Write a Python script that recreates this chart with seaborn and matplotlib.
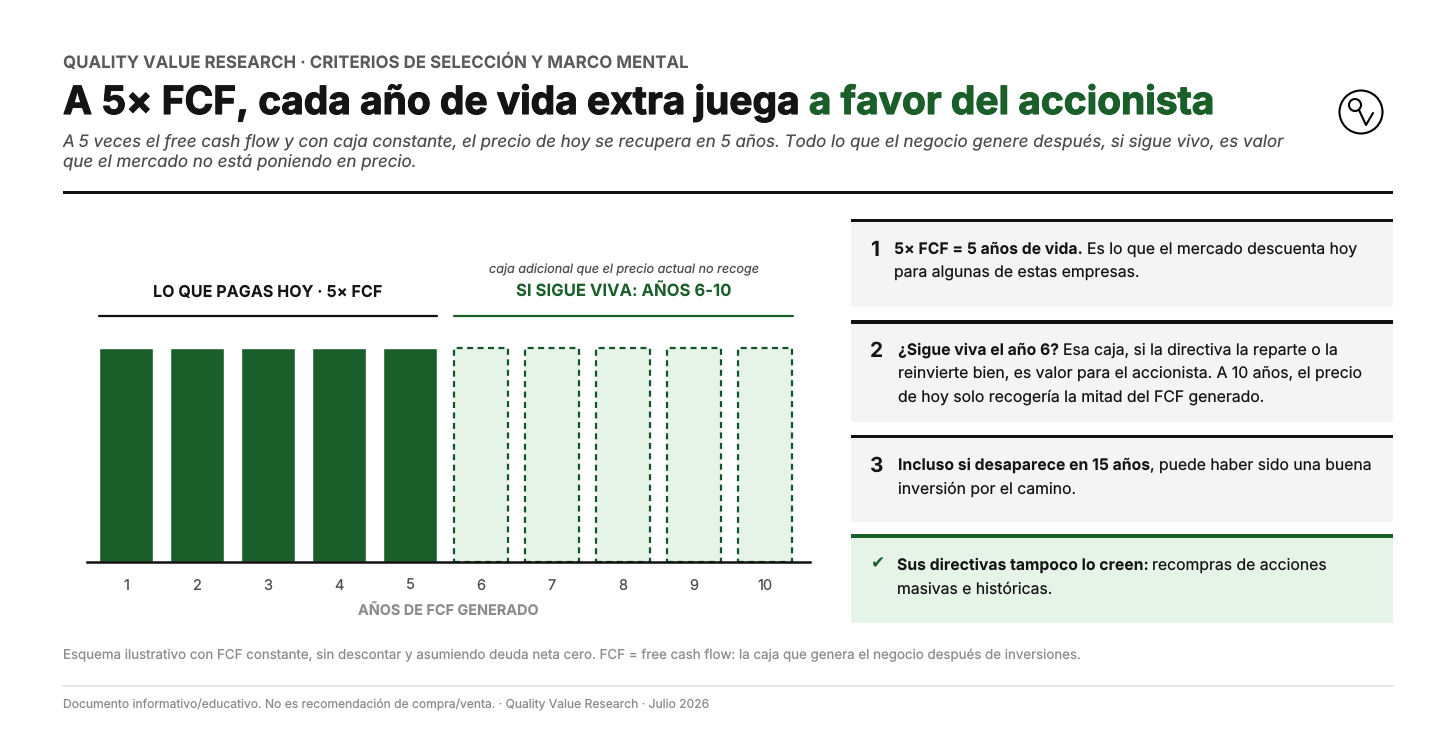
import matplotlib
matplotlib.use('Agg')
import matplotlib.pyplot as plt
import matplotlib.patheffects as pe
from matplotlib.patches import Rectangle, Circle
import pandas as pd
import seaborn as sns

# data
years = ['1', '2', '3', '4', '5', '6', '7', '8', '9', '10']
fcf = [1, 1, 1, 1, 1, 1, 1, 1, 1, 1]
tramo = ['pagado'] * 5 + ['extra'] * 5

kicker = 'QUALITY VALUE RESEARCH · CRITERIOS DE SELECCIÓN Y MARCO MENTAL'
title_a = 'A 5× FCF, cada año de vida extra juega '
title_b = 'a favor del accionista'
subtitle = ['A 5 veces el free cash flow y con caja constante, el precio de hoy se recupera en 5 años. Todo lo que el negocio genere después, si sigue vivo, es valor',
            'que el mercado no está poniendo en precio.']
xlabel = 'AÑOS DE FCF GENERADO'
head_left = 'LO QUE PAGAS HOY · 5× FCF'
head_right = 'SI SIGUE VIVA: AÑOS 6-10'
head_note = 'caja adicional que el precio actual no recoge'
note = 'Esquema ilustrativo con FCF constante, sin descontar y asumiendo deuda neta cero. FCF = free cash flow: la caja que genera el negocio después de inversiones.'
legal = 'Documento informativo/educativo. No es recomendación de compra/venta. · Quality Value Research · Julio 2026'

GREEN = '#1a5e2a'
DASH = '#14522a'
PALE = '#e6f4e8'
INK = '#141414'

sns.set_theme(style='white')
plt.rcParams['font.family'] = ['Inter', 'DejaVu Sans']
plt.rcParams['text.hinting'] = 'none'
plt.rcParams['text.hinting_factor'] = 1

W, H = 1456, 751
fig = plt.figure(figsize=(W / 100, H / 100), dpi=100, facecolor='white')

# capa de maquetacion en pixeles
bg = fig.add_axes([0, 0, 1, 1])
bg.set_xlim(0, W)
bg.set_ylim(H, 0)
bg.axis('off')


def put(x, y, s, size, color=INK, weight='normal', style='normal', ha='left'):
    return bg.text(x, y, s, fontsize=size, color=color, fontweight=weight, fontstyle=style,
                   ha=ha, va='baseline')


def runs(x, y, parts, size):
    # texto seguido con tramos en negrita
    r = fig.canvas.get_renderer()
    for s, w in parts:
        t = put(x, y, s, size, weight=w)
        x = t.get_window_extent(r).x1


put(63, 68, kicker, 12.18, '#5a5a5a', 'bold')
t = put(63, 114, title_a, 28.0, INK, 'bold')
t.set_path_effects([pe.withStroke(linewidth=0.8, foreground=INK)])
x_end = t.get_window_extent(fig.canvas.get_renderer()).x1
t = put(x_end, 114, title_b, 28.0, GREEN, 'bold')
t.set_path_effects([pe.withStroke(linewidth=0.8, foreground=GREEN)])
put(63, 146, subtitle[0], 12.19, '#4d4d4d', style='italic')
put(63, 167, subtitle[1], 12.19, '#4d4d4d', style='italic')
bg.add_patch(Rectangle((63, 190.5), 1330, 3, color='#111111', lw=0))

# logo
bg.add_patch(Circle((1361, 112), 21.5, fill=False, ec='black', lw=1.5))
bg.add_patch(Circle((1355, 105), 6, fill=False, ec='black', lw=1.5))
bg.plot([1359, 1366, 1373], [110, 125, 113], color='black', lw=1.5)

# cabeceras de los tramos
put(268, 297, head_left, 11.6, INK, 'bold', ha='center')
put(624, 297, head_right, 12, GREEN, 'bold', ha='center')
put(624, 273, head_note, 9.1, '#4d4d4d', style='italic', ha='center')
bg.plot([99, 437], [315.5, 315.5], color='#111111', lw=1.6)
bg.plot([454, 793], [315.5, 315.5], color=GREEN, lw=1.6)

# barras
df = pd.DataFrame({'year': years, 'fcf': fcf, 'tramo': tramo})
ax = fig.add_axes([86.9 / W, 1 - 562 / H, (810 - 87) / W, (562 - 348.5) / H], facecolor='none')
sns.barplot(data=df, x='year', y='fcf', hue='tramo', order=years, dodge=False, width=0.77,
            palette={'pagado': GREEN, 'extra': PALE}, legend=False, ax=ax, saturation=1)
for bar in ax.patches:
    if bar.get_height() == 0:
        continue
    if abs(bar.get_x() + bar.get_width() / 2) >= 4.5:
        bar.set_edgecolor(DASH)
        bar.set_linewidth(1.6)
        bar.set_linestyle((0, (2.7, 2.0)))
        bar.set_clip_on(False)
ax.set_xlim(-0.55, 9.634)
ax.set_ylim(0, 1)
for side in ['top', 'left', 'right']:
    ax.spines[side].set_visible(False)
ax.spines['bottom'].set_color('#111111')
ax.spines['bottom'].set_linewidth(1.8)
ax.spines['bottom'].set_zorder(5)
ax.set_yticks([])
ax.set_ylabel('')
ax.set_xlabel(xlabel, fontsize=10.4, fontweight='bold', color='#8c8c8c', labelpad=9)
ax.tick_params(axis='x', length=0, pad=12, labelsize=10.5, labelcolor='#4d4d4d')

# tarjetas de la derecha
cards = [
    (218.5, 307, '#f4f4f4', '#111111'),
    (320, 422, '#f4f4f4', '#111111'),
    (434.5, 522, '#f4f4f4', '#111111'),
    (534, 623, PALE, GREEN),
]
for top, bottom, fill, line in cards:
    bg.add_patch(Rectangle((851, top), 542, bottom - top, color=fill, lw=0))
    bg.add_patch(Rectangle((851, top), 542, 3.5, color=line, lw=0))

put(870, 256, '1', 15, INK, 'bold')
put(870, 357, '2', 15, INK, 'bold')
put(870, 472, '3', 15, INK, 'bold')
bg.text(870, 568, '✔', fontsize=12, color=GREEN, family=['DejaVu Sans'])

CARD = 11.35
runs(894, 254, [('5× FCF = 5 años de vida. ', 'bold'), ('Es lo que el mercado descuenta hoy', 'normal')], CARD)
runs(894, 278, [('para algunas de estas empresas.', 'normal')], CARD)
runs(898, 355, [('¿Sigue viva el año 6? ', 'bold'), ('Esa caja, si la directiva la reparte o la', 'normal')], CARD)
runs(898, 378, [('reinvierte bien, es valor para el accionista. A 10 años, el precio', 'normal')], CARD)
runs(898, 402, [('de hoy solo recogería la mitad del FCF generado.', 'normal')], CARD)
runs(898, 470, [('Incluso si desaparece en 15 años', 'bold'), (', puede haber sido una buena', 'normal')], CARD)
runs(898, 494, [('inversión por el camino.', 'normal')], CARD)
runs(897, 570, [('Sus directivas tampoco lo creen: ', 'bold'), ('recompras de acciones', 'normal')], CARD)
runs(897, 594, [('masivas e históricas.', 'normal')], CARD)

# pie
put(63, 659, note, 9.6, '#8c8c8c')
bg.plot([63, 1393], [686, 686], color='#e0e0e0', lw=1.2)
put(63, 708, legal, 8.73, '#8c8c8c')

fig.savefig('out.png', dpi=100, facecolor='white')
